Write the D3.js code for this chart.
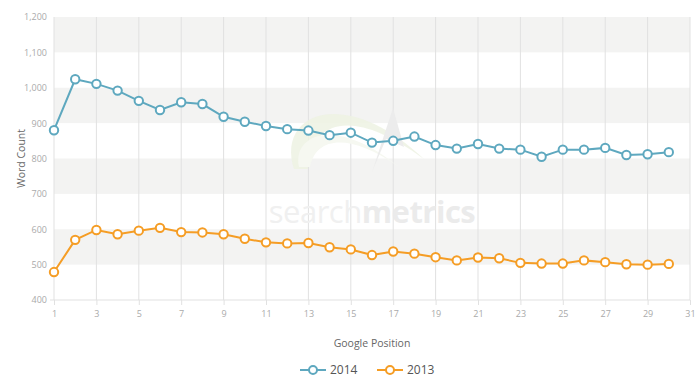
<!DOCTYPE html>
<html>
<head>
<meta charset="utf-8">
<script src="https://cdn.jsdelivr.net/npm/d3@7"></script>
<style>
  body { margin: 0; background: #fff; }
  text { font-family: "Open Sans", "Noto Sans", sans-serif; }
</style>
</head>
<body>
<div id="chart"></div>
<script>
// data
const positions = d3.range(1, 31);
const words2014 = [880, 1024, 1011, 992, 963, 937, 959, 954, 918, 904, 892, 883, 879, 866, 873,
  845, 850, 862, 838, 828, 841, 828, 825, 805, 825, 825, 830, 810, 812, 818];
const words2013 = [479, 570, 598, 586, 596, 604, 592, 591, 586, 573, 563, 560, 561, 549, 543,
  527, 537, 531, 521, 512, 520, 518, 505, 503, 503, 512, 507, 501, 500, 502];
const yTicks = [400, 500, 600, 700, 800, 900, 1000, 1100, 1200];
const xTicks = d3.range(1, 32, 2);
const seriesNames = ['2014', '2013'];
const seriesColors = ['#5ea8bf', '#f59d25'];

const margin = { top: 17, right: 10, bottom: 84, left: 54 };
const W = 700, H = 384;
const width = 690 - margin.left;
const height = 300 - margin.top;

const svg = d3.select('#chart').append('svg')
  .attr('width', W).attr('height', H);
const g = svg.append('g').attr('transform', `translate(${margin.left}, ${margin.top})`);

const x = d3.scaleLinear().domain([1, 31]).range([0, width]);
const y = d3.scaleLinear().domain([400, 1200]).range([height, 0]);

// alternating bands
const bands = yTicks.slice(0, -1).filter((d, i) => i % 2 === 1);
g.selectAll('.band').data(bands).enter().append('rect')
  .attr('x', 0).attr('width', width)
  .attr('y', d => y(d + 100)).attr('height', d => y(d) - y(d + 100))
  .attr('fill', '#f3f3f2');

// vertical grid
g.selectAll('.vgrid').data(xTicks).enter().append('line')
  .attr('x1', d => x(d)).attr('x2', d => x(d))
  .attr('y1', 0).attr('y2', height)
  .attr('stroke', '#e1e1e1').attr('stroke-width', 1);

// watermark
g.append('path')
  .attr('d', 'M240,152 C222,95 292,68 370,142 C302,92 258,100 254,152 Z')
  .attr('fill', '#edf2e3').attr('opacity', 0.85);
g.append('path')
  .attr('d', 'M245,150 C238,115 285,100 345,150 C295,115 262,120 256,150 Z')
  .attr('fill', '#f6f8f1');
g.append('path')
  .attr('d', 'M318,155 L339,91 L350,130 L332,122 Z')
  .attr('fill', '#ececec');
const wm = g.append('text')
  .attr('x', 213 + 105).attr('y', 223 - margin.top)
  .attr('text-anchor', 'middle')
  .style('font-size', '31px')
  .style('letter-spacing', '-0.5px');
wm.append('tspan').attr('fill', '#f0f0f0').text('search');
wm.append('tspan').attr('fill', '#ebebeb').style('font-weight', 'bold').text('metrics');

// x axis
const xAxis = g.append('g')
  .attr('transform', `translate(0, ${height})`)
  .call(d3.axisBottom(x).tickValues(xTicks).tickSize(5).tickPadding(6).tickFormat(d3.format('d')));
xAxis.select('.domain').attr('stroke', '#e1e1e1').attr('d', `M-4,0H${width}`);
xAxis.selectAll('line').attr('stroke', '#e1e1e1');
xAxis.selectAll('text').attr('fill', '#aaa').style('font-size', '9px');

// y axis labels
const yAxis = g.append('g')
  .call(d3.axisLeft(y).tickValues(yTicks).tickSize(0).tickPadding(7).tickFormat(d3.format(',')));
yAxis.select('.domain').remove();
yAxis.selectAll('text').attr('fill', '#aaa').style('font-size', '9px');

// titles
svg.append('text')
  .attr('transform', `translate(21, ${margin.top + height / 2}) rotate(-90)`)
  .attr('text-anchor', 'middle').attr('dy', '0.35em')
  .attr('fill', '#666').style('font-size', '10.5px')
  .text('Word Count');
svg.append('text')
  .attr('x', 372).attr('y', 343).attr('dy', '0.35em')
  .attr('text-anchor', 'middle')
  .attr('fill', '#666').style('font-size', '10.5px')
  .text('Google Position');

// lines
const allSeries = [words2014, words2013];
const line = d3.line().x((d, i) => x(positions[i])).y(d => y(d));
allSeries.forEach((vals, k) => {
  g.append('path').datum(vals)
    .attr('fill', 'none').attr('stroke', seriesColors[k]).attr('stroke-width', 2)
    .attr('d', line);
  g.selectAll('.pt' + k).data(vals).enter().append('circle')
    .attr('cx', (d, i) => x(positions[i])).attr('cy', d => y(d))
    .attr('r', 4.2)
    .attr('fill', '#fff').attr('stroke', seriesColors[k]).attr('stroke-width', 2);
});

// legend
const legendX = [300, 377];
seriesNames.forEach((name, k) => {
  const lg = svg.append('g').attr('transform', `translate(${legendX[k]}, 370)`);
  lg.append('line').attr('x1', 0).attr('x2', 26).attr('y1', 0).attr('y2', 0)
    .attr('stroke', seriesColors[k]).attr('stroke-width', 2);
  lg.append('circle').attr('cx', 13).attr('cy', 0).attr('r', 4)
    .attr('fill', '#fff').attr('stroke', seriesColors[k]).attr('stroke-width', 2);
  lg.append('text').attr('x', 30).attr('y', 0).attr('dy', '0.35em')
    .attr('fill', '#555').style('font-size', '12px').text(name);
});
</script>
</body>
</html>
